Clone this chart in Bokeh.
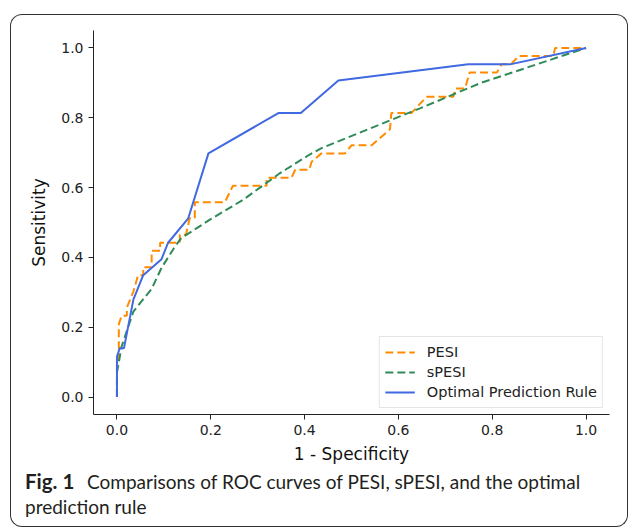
from bokeh.plotting import figure
from bokeh.layouts import column
from bokeh.models import Range1d, Legend, LegendItem, NumeralTickFormatter, InlineStyleSheet, Div
from bokeh.embed import file_html
from bokeh.resources import INLINE

# ---- data ----
pesi_fpr = [0.0, 0.0, 0.004, 0.004, 0.010, 0.021, 0.021, 0.035, 0.045, 0.056, 0.056, 0.074, 0.074,
            0.092, 0.092, 0.134, 0.134, 0.147, 0.155, 0.166, 0.166, 0.230, 0.247, 0.319, 0.319,
            0.372, 0.380, 0.410, 0.415, 0.436, 0.486, 0.500, 0.543, 0.582, 0.585, 0.628, 0.660,
            0.717, 0.722, 0.742, 0.752, 0.810, 0.820, 0.840, 0.856, 0.930, 0.934, 1.0]
pesi_tpr = [0.0, 0.093, 0.116, 0.209, 0.233, 0.233, 0.256, 0.302, 0.349, 0.349, 0.372, 0.372, 0.419,
            0.419, 0.442, 0.442, 0.465, 0.465, 0.512, 0.512, 0.558, 0.558, 0.605, 0.605, 0.628,
            0.628, 0.651, 0.651, 0.674, 0.698, 0.698, 0.721, 0.721, 0.767, 0.814, 0.814, 0.860,
            0.860, 0.884, 0.884, 0.930, 0.930, 0.953, 0.953, 0.977, 0.977, 1.0, 1.0]

spesi_fpr = [0.0, 0.0, 0.010, 0.035, 0.074, 0.095, 0.123, 0.137, 0.198, 0.269, 0.347, 0.410,
             0.436, 0.646, 0.774, 1.0]
spesi_tpr = [0.0, 0.070, 0.145, 0.245, 0.310, 0.370, 0.430, 0.455, 0.508, 0.565, 0.641, 0.694,
             0.713, 0.827, 0.899, 1.0]

opt_fpr = [0.0, 0.0, 0.006, 0.015, 0.035, 0.056, 0.095, 0.109, 0.152, 0.195, 0.345, 0.392,
           0.472, 0.749, 0.838, 1.0]
opt_tpr = [0.0, 0.116, 0.140, 0.140, 0.279, 0.349, 0.395, 0.442, 0.512, 0.698, 0.814, 0.814,
           0.907, 0.953, 0.953, 1.0]

series_names = ["PESI", "sPESI", "Optimal Prediction Rule"]
x_label = "1 - Specificity"
y_label = "Sensitivity"
tick_values = [0.0, 0.2, 0.4, 0.6, 0.8, 1.0]
caption_bold = "Fig. 1"
caption_line1 = "Comparisons of ROC curves of PESI, sPESI, and the optimal"
caption_line2 = "prediction rule"

top_css = InlineStyleSheet(css="""
:host::after {
  content: "";
  position: absolute;
  box-sizing: border-box;
  left: 10px; top: 14px; width: 618px; height: 452px;
  border: 1.5px solid #333333;
  border-bottom: none;
  border-radius: 12px 12px 0 0;
  pointer-events: none;
}
""")

p = figure(width=630, height=466, output_backend="svg", toolbar_location=None,
           x_range=Range1d(-0.05, 1.05), y_range=Range1d(-0.05, 1.05),
           min_border_left=93, min_border_right=21, min_border_top=30, min_border_bottom=52)
p.stylesheets = [top_css]
p.outline_line_color = None
p.xgrid.visible = False
p.ygrid.visible = False

r1 = p.line(pesi_fpr, pesi_tpr, line_color="#ff8c00", line_width=2, line_dash="8 4")
r2 = p.line(spesi_fpr, spesi_tpr, line_color="#2e8b57", line_width=2, line_dash="8 4")
r3 = p.line(opt_fpr, opt_tpr, line_color="#4169e1", line_width=2)

legend = Legend(items=[LegendItem(label=series_names[0], renderers=[r1]),
                       LegendItem(label=series_names[1], renderers=[r2]),
                       LegendItem(label=series_names[2], renderers=[r3])],
                location="bottom_right")
legend.margin = 6
legend.padding = 5
legend.spacing = 0
legend.glyph_width = 30
legend.glyph_height = 20
legend.label_height = 20
legend.label_standoff = 12
legend.label_text_font = "DejaVu Sans"
legend.label_text_font_size = "14.5px"
legend.label_text_color = "#222222"
legend.border_line_color = "#cccccc"
legend.border_line_width = 1
legend.background_fill_alpha = 0.8
p.add_layout(legend, "center")

for ax in (p.xaxis, p.yaxis):
    ax.ticker = tick_values
    ax.formatter = NumeralTickFormatter(format="0.0")
    ax.minor_tick_line_color = None
    ax.major_tick_in = 0
    ax.major_tick_out = 5
    ax.major_tick_line_color = "#222222"
    ax.axis_line_color = "#222222"
    ax.major_label_text_font = "DejaVu Sans"
    ax.major_label_text_font_size = "14px"
    ax.major_label_text_color = "#222222"
    ax.axis_label_text_font = "DejaVu Sans"
    ax.axis_label_text_font_size = "17px"
    ax.axis_label_text_font_style = "normal"
    ax.axis_label_text_color = "#111111"
    ax.major_label_standoff = 5

p.xaxis.axis_label = x_label
p.yaxis.axis_label = y_label
p.xaxis.axis_label_standoff = 6
p.yaxis.axis_label_standoff = 9

# ---- caption panel (HTML text below the chart) ----
caption_html = (
    '<div style="position:relative;width:630px;height:62px;font-family:Lato,sans-serif;'
    'font-size:19px;line-height:25px;color:#231f20;white-space:nowrap;">'
    '<div style="position:absolute;box-sizing:border-box;left:10px;top:0;width:618px;height:61px;'
    'border:1.5px solid #333333;border-top:none;border-radius:0 0 12px 12px;"></div>'
    '<div style="position:absolute;left:25px;top:3px;">'
    f'<span style="display:inline-block;width:62px;font-weight:bold;font-size:20.5px;">{caption_bold}</span>'
    f'{caption_line1}<br>{caption_line2}</div></div>'
)
c = Div(text=caption_html, width=630, height=62, margin=(0, 0, 0, 0))

layout = column(p, c, spacing=0)
open("out.html", "w").write(file_html(layout, INLINE))
